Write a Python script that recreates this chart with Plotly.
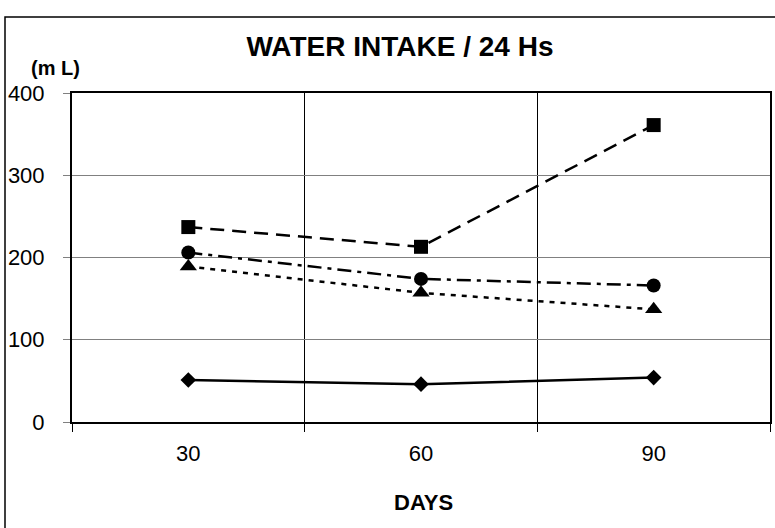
import plotly.graph_objects as go

days = ["30", "60", "90"]
diamond_vals = [51, 46, 54]
square_vals = [237, 213, 361]
circle_vals = [206, 174, 166]
triangle_vals = [189, 157, 137]

fig = go.Figure()

series = [
    (diamond_vals, "diamond", "solid", 12),
    (square_vals, "square", "14px,8px", 14),
    (circle_vals, "circle", "14px,6px,4px,6px", 14),
    (triangle_vals, "triangle-up", "5px,6px", 15),
]
for vals, sym, dash, size in series:
    fig.add_trace(go.Scatter(
        x=days, y=vals, mode="lines+markers",
        line=dict(color="black", width=2.5, dash=dash),
        marker=dict(symbol=sym, size=size, color="black"),
        showlegend=False,
    ))

fig.update_layout(
    width=775, height=528,
    margin=dict(l=72, r=5, t=93, b=106),
    paper_bgcolor="white", plot_bgcolor="white",
    font=dict(family="Liberation Sans, Arial, sans-serif", color="black"),
    title=dict(text="<b>WATER INTAKE / 24 Hs</b>", x=400 / 775,
               xanchor="center", xref="container",
               y=1 - 46 / 528, yanchor="middle", font=dict(size=28)),
    xaxis=dict(
        type="category", range=[-0.5, 2.5], tickson="boundaries",
        showgrid=True, gridcolor="black", gridwidth=1,
        ticks="outside", ticklen=8, tickcolor="black",
        showline=True, linecolor="black", linewidth=2, mirror=True,
        tickfont=dict(size=22), ticklabelstandoff=11,
        automargin=False,
    ),
    yaxis=dict(
        range=[0, 400], tickvals=[0, 100, 200, 300, 400],
        showgrid=True, gridcolor="#808080", gridwidth=1,
        ticks="outside", ticklen=7, tickcolor="#808080",
        showline=True, linecolor="black", linewidth=2, mirror=True,
        tickfont=dict(size=22), ticklabelstandoff=14,
        zeroline=False, automargin=False,
    ),
    shapes=[dict(type="rect", xref="paper", yref="paper",
                 x0=(5 - 72) / 698, x1=1.2, y0=-0.6, y1=(422 - 17) / 329,
                 line=dict(color="black", width=1.5), layer="below")],
    annotations=[
        dict(text="<b>(m L)</b>", xref="paper", yref="paper",
             x=(55 - 72) / 698, y=(422 - 68) / 329,
             xanchor="center", yanchor="middle", showarrow=False,
             font=dict(size=20)),
        dict(text="<b>DAYS</b>", xref="paper", yref="paper",
             x=(423 - 72) / 698, y=(422 - 502) / 329,
             xanchor="center", yanchor="middle", showarrow=False,
             font=dict(size=22)),
    ],
)

fig.write_html("out.html", config={"displayModeBar": False},
               post_script="document.body.style.margin='0';document.body.style.overflow='hidden';")
